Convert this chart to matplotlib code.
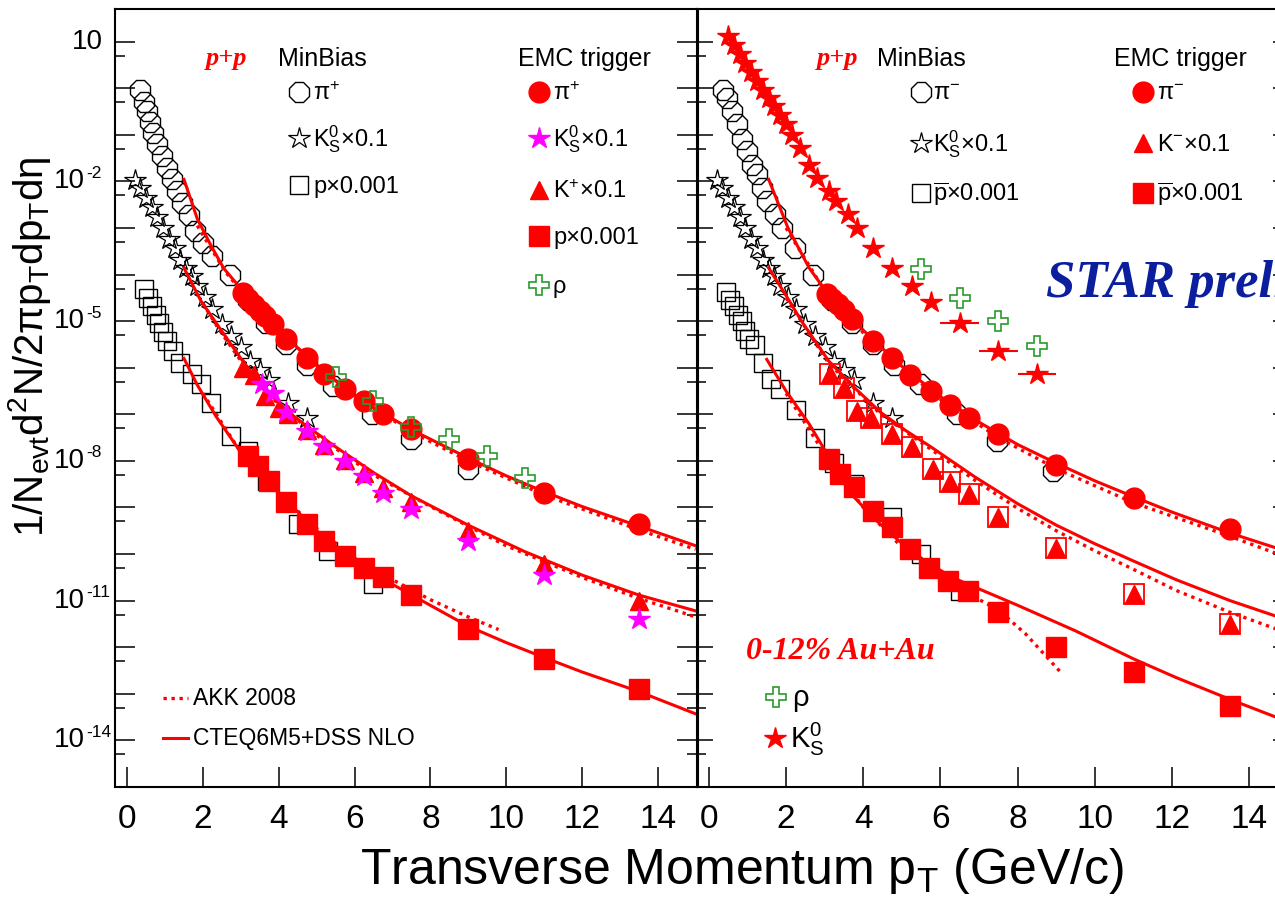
import numpy as np
import matplotlib
matplotlib.use('Agg')
import matplotlib.pyplot as plt
from matplotlib.lines import Line2D
from matplotlib.ticker import FixedLocator, NullFormatter

plt.rcParams['font.family'] = ['Liberation Sans', 'DejaVu Sans']
plt.rcParams['mathtext.fontset'] = 'custom'
plt.rcParams['mathtext.rm'] = 'Liberation Sans'
plt.rcParams['mathtext.it'] = 'Liberation Sans:italic'
plt.rcParams['mathtext.bf'] = 'Liberation Sans:bold'

# =========================
# p+p, positive particles (left pad)
# =========================
pip_mb_pt = [0.35, 0.45, 0.52, 0.61, 0.69, 0.78, 0.92, 1.05, 1.18, 1.31, 1.44, 1.62,
             1.79, 2.01, 2.25, 2.72, 3.2, 3.67, 4.2, 4.75, 5.42, 6.47, 7.5, 9.0]
pip_mb_y = [9.1e-1, 5.1e-1, 3.2e-1, 1.9e-1, 1.1e-1, 6.2e-2, 3.5e-2, 1.9e-2, 1.1e-2, 6.2e-3,
            3.5e-3, 1.9e-3, 8.5e-4, 4.8e-4, 2.5e-4, 1.0e-4, 2.8e-5, 9.1e-6, 3.2e-6, 1.15e-6,
            4.0e-7, 1.0e-7, 3.0e-8, 6.8e-9]

pip_emc_pt = [3.05, 3.2, 3.35, 3.5, 3.65, 3.85, 4.2, 4.75, 5.2, 5.75, 6.25, 6.75, 7.5, 9.0, 11.0, 13.5]
pip_emc_y = [4.0e-5, 2.95e-5, 2.19e-5, 1.62e-5, 1.26e-5, 8.7e-6, 4.07e-6, 1.62e-6, 7.24e-7,
             3.55e-7, 1.91e-7, 1.0e-7, 4.79e-8, 1.1e-8, 2.09e-9, 4.47e-10]

pip_nlo_pt = [1.5, 1.85, 2.2, 2.55, 3.0, 3.5, 4.0, 4.75, 5.5, 6.5, 7.5, 9.0, 10.0, 11.0, 12.0, 13.5, 15.0]
pip_nlo_y = [1.1e-2, 1.58e-3, 4.37e-4, 1.35e-4, 5.01e-5, 1.78e-5, 6.61e-6, 1.7e-6, 5.25e-7,
             1.38e-7, 4.68e-8, 1.15e-8, 4.79e-9, 2.19e-9, 1.05e-9, 3.98e-10, 1.51e-10]

pip_akk_pt = [1.85, 2.2, 2.6, 3.0, 4.0, 5.0, 6.0, 7.5, 9.0, 11.0, 13.5, 15.0]
pip_akk_y = [1.12e-3, 3.8e-4, 1.12e-4, 4.57e-5, 6.31e-6, 1.12e-6, 2.51e-7, 4.17e-8, 1.0e-8,
             1.86e-9, 3.31e-10, 1.26e-10]

# K0s x 0.1, minimum bias (same points in both pads)
k0s_mb_pt = [0.2, 0.35, 0.5, 0.65, 0.8, 0.95, 1.1, 1.25, 1.4, 1.55, 1.7, 1.85, 2.05, 2.25,
             2.5, 2.75, 3.0, 3.25, 3.5, 3.75, 4.25, 4.75]
k0s_mb_y = [1.05e-2, 7.08e-3, 4.37e-3, 2.75e-3, 1.7e-3, 9.8e-4, 5.75e-4, 3.72e-4, 2.09e-4,
            1.35e-4, 9.1e-5, 5.62e-5, 3.31e-5, 1.78e-5, 8.5e-6, 4.79e-6, 2.82e-6, 1.41e-6,
            8.9e-7, 5.37e-7, 1.78e-7, 8.3e-8]

k0s_emc_pt = [3.55, 3.85, 4.2, 4.75, 5.2, 5.75, 6.25, 6.75, 7.5, 9.0, 11.0, 13.5]
k0s_emc_y = [4.37e-7, 2.88e-7, 1.1e-7, 4.37e-8, 2.09e-8, 1.0e-8, 4.79e-9, 2.09e-9, 9.3e-10,
             1.95e-10, 3.47e-11, 4.07e-12]

kp_emc_pt = [3.05, 3.35, 3.65, 4.0, 4.25, 4.75, 5.2, 5.75, 6.25, 6.75, 7.5, 9.0, 11.0, 13.5]
kp_emc_y = [1.0e-6, 7.08e-7, 2.51e-7, 1.38e-7, 1.0e-7, 4.68e-8, 2.24e-8, 1.07e-8, 5.37e-9,
            2.63e-9, 1.29e-9, 3.16e-10, 6.17e-11, 1.0e-11]

kp_nlo_pt = [1.5, 1.95, 2.4, 3.0, 3.5, 4.1, 4.65, 5.5, 6.5, 7.5, 9.0, 10.5, 12.0, 13.5, 15.0]
kp_nlo_y = [1.38e-4, 2.69e-5, 7.94e-6, 1.58e-6, 4.68e-7, 1.41e-7, 6.31e-8, 2.0e-8, 5.62e-9,
            1.78e-9, 4.17e-10, 1.12e-10, 3.55e-11, 1.32e-11, 6.03e-12]

kp_akk_pt = [2.0, 2.4, 3.0, 4.0, 5.0, 6.5, 8.0, 10.0, 12.0, 13.5, 15.0]
kp_akk_y = [2.4e-5, 7.08e-6, 1.41e-6, 1.58e-7, 3.55e-8, 5.01e-9, 1.05e-9, 1.51e-10, 3.16e-11,
            1.12e-11, 4.47e-12]

p_mb_pt = [0.45, 0.55, 0.65, 0.75, 0.85, 0.95, 1.05, 1.2, 1.4, 1.7, 1.95, 2.2, 2.75, 3.2,
           3.7, 4.5, 5.3, 6.5]
p_mb_y = [4.79e-5, 3.16e-5, 2.09e-5, 1.35e-5, 8.9e-6, 5.75e-6, 3.72e-6, 2.29e-6, 1.29e-6,
          7.24e-7, 4.37e-7, 1.78e-7, 3.47e-8, 1.62e-8, 3.72e-9, 4.47e-10, 1.17e-10, 2.29e-11]

p_emc_pt = [3.2, 3.45, 3.75, 4.2, 4.75, 5.2, 5.75, 6.25, 6.75, 7.5, 9.0, 11.0, 13.5]
p_emc_y = [1.29e-8, 7.76e-9, 3.72e-9, 1.29e-9, 4.37e-10, 1.95e-10, 9.1e-11, 5.13e-11,
           3.16e-11, 1.29e-11, 2.45e-12, 5.62e-13, 1.29e-13]

p_nlo_pt = [1.5, 1.85, 2.35, 2.9, 3.5, 4.2, 5.0, 6.0, 7.0, 8.0, 9.0, 10.0, 11.0, 12.0, 13.5, 15.0]
p_nlo_y = [1.58e-6, 4.27e-7, 8.9e-8, 2.0e-8, 5.62e-9, 1.41e-9, 3.16e-10, 7.08e-11, 2.24e-11,
           7.94e-12, 2.82e-12, 1.26e-12, 6.03e-13, 2.95e-13, 1.12e-13, 3.72e-14]

p_akk_pt = [2.0, 3.0, 4.0, 5.0, 6.0, 7.0, 8.0, 9.0, 9.8]
p_akk_y = [2.82e-7, 1.51e-8, 2.0e-9, 3.55e-10, 8.3e-11, 2.82e-11, 1.05e-11, 4.47e-12, 2.4e-12]

rho_pp_pt = [5.5, 6.5, 7.5, 8.5, 9.5, 10.5]
rho_pp_y = [6.31e-7, 1.91e-7, 5.25e-8, 2.95e-8, 1.29e-8, 4.37e-9]

# =========================
# p+p, negative particles (right pad)
# =========================
pim_mb_pt = [0.37, 0.47, 0.6, 0.73, 0.86, 0.99, 1.12, 1.25, 1.38, 1.51, 1.72, 1.9, 2.24,
             2.71, 3.2, 3.7, 4.25, 4.8, 5.47, 6.42, 7.46, 8.92]
pim_mb_y = [9.3e-1, 6.03e-1, 3.16e-1, 1.66e-1, 8.3e-2, 4.37e-2, 2.29e-2, 1.41e-2, 7.08e-3,
            3.72e-3, 1.95e-3, 1.0e-3, 3.63e-4, 1.0e-4, 2.82e-5, 9.1e-6, 3.16e-6, 1.15e-6,
            4.37e-7, 1.0e-7, 2.69e-8, 6.17e-9]

pim_emc_pt = [3.05, 3.2, 3.35, 3.5, 3.7, 4.25, 4.75, 5.2, 5.75, 6.25, 6.75, 7.5, 9.0, 11.0, 13.5]
pim_emc_y = [3.8e-5, 2.95e-5, 2.29e-5, 1.74e-5, 1.12e-5, 3.8e-6, 1.58e-6, 7.08e-7, 3.16e-7,
             1.58e-7, 8.5e-8, 3.72e-8, 8.3e-9, 1.62e-9, 3.47e-10]

pim_nlo_pt = [1.55, 2.05, 2.6, 3.0, 3.5, 4.25, 5.0, 6.0, 7.0, 8.0, 9.0, 10.0, 11.0, 12.0, 13.5, 15.0]
pim_nlo_y = [1.1e-2, 1.0e-3, 1.38e-4, 4.79e-5, 1.66e-5, 3.98e-6, 1.07e-6, 2.4e-7, 6.76e-8,
             2.24e-8, 8.9e-9, 3.72e-9, 1.7e-9, 7.94e-10, 2.82e-10, 1.12e-10]

pim_akk_pt = [2.0, 3.0, 4.0, 5.0, 6.0, 7.5, 9.0, 11.0, 13.5, 15.0]
pim_akk_y = [1.0e-3, 4.47e-5, 5.62e-6, 1.0e-6, 2.09e-7, 3.16e-8, 6.76e-9, 1.26e-9, 2.4e-10, 8.3e-11]

km_emc_pt = [3.15, 3.5, 3.85, 4.2, 4.75, 5.25, 5.8, 6.25, 6.75, 7.5, 9.0, 11.0, 13.5]
km_emc_y = [7.24e-7, 3.72e-7, 1.17e-7, 8.5e-8, 3.72e-8, 1.95e-8, 6.61e-9, 3.47e-9, 1.95e-9,
            6.17e-10, 1.38e-10, 1.38e-11, 3.16e-12]

km_nlo_pt = [1.55, 2.0, 2.4, 3.1, 3.8, 4.45, 5.1, 5.75, 6.9, 8.0, 9.0, 10.0, 11.0, 12.1, 13.5, 15.0]
km_nlo_y = [1.38e-4, 3.55e-5, 1.0e-5, 1.41e-6, 3.55e-7, 1.1e-7, 4.47e-8, 2.0e-8, 4.47e-9,
            1.2e-9, 4.17e-10, 1.66e-10, 7.08e-11, 2.82e-11, 1.0e-11, 3.8e-12]

km_akk_pt = [2.0, 3.1, 4.45, 5.75, 6.9, 8.0, 9.0, 10.0, 11.0, 12.1, 13.5, 15.0]
km_akk_y = [3.16e-5, 1.26e-6, 1.0e-7, 1.78e-8, 3.8e-9, 9.55e-10, 3.16e-10, 1.17e-10,
            4.68e-11, 1.66e-11, 5.62e-12, 2.0e-12]

pbar_mb_pt = [0.45, 0.55, 0.65, 0.75, 0.85, 0.95, 1.05, 1.2, 1.4, 1.6, 1.85, 2.25, 2.75,
              3.25, 3.75, 4.75, 5.5, 6.5]
pbar_mb_y = [4.17e-5, 2.82e-5, 2.09e-5, 1.38e-5, 1.0e-5, 6.03e-6, 4.17e-6, 3.02e-6, 1.26e-6,
             5.62e-7, 3.55e-7, 1.23e-7, 3.16e-8, 8.9e-9, 3.16e-9, 6.31e-10, 1.0e-10, 1.62e-11]

pbar_emc_pt = [3.1, 3.4, 3.75, 4.25, 4.75, 5.2, 5.7, 6.2, 6.7, 7.5, 9.0, 11.0, 13.5]
pbar_emc_y = [1.1e-8, 5.13e-9, 2.69e-9, 8.5e-10, 3.72e-10, 1.29e-10, 5.13e-11, 2.69e-11,
              1.62e-11, 5.62e-12, 1.0e-12, 2.88e-13, 5.37e-14]

pbar_nlo_pt = [1.5, 2.0, 2.6, 3.1, 3.65, 4.3, 4.9, 5.6, 6.3, 7.0, 8.0, 9.5, 11.0, 12.1, 13.5, 15.0]
pbar_nlo_y = [1.51e-6, 3.16e-7, 6.17e-8, 1.26e-8, 2.09e-9, 5.62e-10, 2.0e-10, 7.08e-11,
              3.16e-11, 1.78e-11, 7.94e-12, 2.24e-12, 5.62e-13, 2.24e-13, 7.59e-14, 2.51e-14]

pbar_akk_pt = [2.0, 3.0, 4.0, 5.0, 6.0, 6.9, 7.5, 8.2, 9.15]
pbar_akk_y = [2.82e-7, 1.41e-8, 1.0e-9, 1.41e-10, 3.16e-11, 1.17e-11, 6.31e-12, 1.95e-12, 2.69e-13]

# 0-12% Au+Au
rho_auau_pt = [5.5, 6.5, 7.5, 8.5]
rho_auau_y = [1.29e-4, 3.16e-5, 1.0e-5, 2.88e-6]

k0s_auau_pt = [0.5, 0.65, 0.8, 0.95, 1.1, 1.25, 1.4, 1.55, 1.7, 1.85, 2.0, 2.15, 2.35, 2.6,
               2.8, 3.1, 3.3, 3.6, 3.85, 4.25, 4.75, 5.25, 5.75, 6.5, 7.5, 8.5]
k0s_auau_y = [12.9, 8.32, 5.37, 3.47, 2.24, 1.45, 0.933, 0.603, 0.407, 0.269, 0.166, 0.1,
              5.13e-2, 2.29e-2, 1.17e-2, 6.17e-3, 3.72e-3, 1.95e-3, 1.0e-3, 3.72e-4, 1.38e-4,
              5.62e-5, 2.51e-5, 9.1e-6, 2.29e-6, 7.24e-7]
k0s_auau_xerr = [0.0] * 23 + [0.5, 0.5, 0.5]

# decades that carry a label on the y axis
ylabel_exps = [1, -2, -5, -8, -11, -14]

# =========================
# styles
# =========================
RED = '#ff0000'
MAG = '#ff00ff'
GREEN = '#2b9a2b'
BLUE = '#0b1f9e'
SERIF = ['Liberation Serif', 'DejaVu Serif']

sty_pi_mb = dict(marker='8', ms=16, mfc='none', mec='black', mew=1.0, ls='none')
sty_k0_mb = dict(marker='*', ms=16, mfc='none', mec='black', mew=0.9, ls='none')
sty_p_mb = dict(marker='s', ms=13.5, mfc='none', mec='black', mew=1.0, ls='none')
sty_pi_emc = dict(marker='o', ms=15, color=RED, ls='none')
sty_k0_emc = dict(marker='*', ms=16, color=MAG, ls='none')
sty_k_emc = dict(marker='^', ms=13, color=RED, ls='none')
sty_p_emc = dict(marker='s', ms=14, color=RED, ls='none')
sty_rho = dict(marker='P', ms=15, mfc='none', mec=GREEN, mew=1.2, ls='none')
sty_k0_auau = dict(marker='*', ms=16, color=RED, ls='none')
nlo_kw = dict(color=RED, lw=2.2, ls='-')
akk_kw = dict(color=RED, lw=2.4, ls=(0, (1.0, 1.4)))

W, H = 1275, 913
fig = plt.figure(figsize=(W / 100, H / 100), dpi=100)


def fx(px):
    return px / W


def fy(py):
    return 1.0 - py / H


LEFT_W = 697.5 - 115
ax_l = fig.add_axes([fx(115), fy(787), LEFT_W / W, (787 - 9) / H])
# right pad runs past the right edge of the canvas
ax_r = fig.add_axes([fx(698), fy(787), 590 / W, (787 - 9) / H])
ax_r.patch.set_visible(False)

for ax, xlim, ylen in ((ax_l, (-0.32, 15.05), 14.4), (ax_r, (-0.28, 15.0), 10.8)):
    ax.set_yscale('log')
    ax.set_ylim(1e-15, 50)
    ax.set_xlim(*xlim)
    ax.yaxis.set_major_locator(FixedLocator(10.0 ** np.arange(-15, 2)))
    ax.yaxis.set_minor_locator(FixedLocator(5.0 * 10.0 ** np.arange(-16, 1)))
    ax.yaxis.set_major_formatter(NullFormatter())
    ax.yaxis.set_minor_formatter(NullFormatter())
    ax.set_xticks(np.arange(0, 15, 2))
    ax.tick_params(axis='both', which='both', direction='in', top=False, right=True,
                   width=1.1, colors='black')
    ax.tick_params(axis='y', which='major', length=ylen)
    ax.tick_params(axis='y', which='minor', length=ylen / 2)
    ax.tick_params(axis='x', which='major', length=14.4, labelsize=24, pad=12)
    for s in ax.spines.values():
        s.set_linewidth(1.5)

# y labels as "10" with a small raised exponent
ytrans = ax_l.get_yaxis_transform()
for e in ylabel_exps:
    if e == 1:
        ax_l.text(-12 / LEFT_W, 10.0 ** e, '10', ha='right', va='center', fontsize=20,
                  transform=ytrans, clip_on=False)
    else:
        ax_l.text(-30 / LEFT_W, 10.0 ** e, '10', ha='right', va='center', fontsize=20,
                  transform=ytrans, clip_on=False)
        ax_l.text(-29 / LEFT_W, 10.0 ** (e + 0.17), '%d' % e, ha='left', va='center',
                  fontsize=12.5, transform=ytrans, clip_on=False)

# ---- left pad: pi+, K, p ----
ax = ax_l
ax.plot(pip_mb_pt, pip_mb_y, **sty_pi_mb)
ax.plot(k0s_mb_pt, k0s_mb_y, **sty_k0_mb)
ax.plot(p_mb_pt, p_mb_y, **sty_p_mb)
for pt, y in ((pip_nlo_pt, pip_nlo_y), (kp_nlo_pt, kp_nlo_y), (p_nlo_pt, p_nlo_y)):
    ax.plot(pt, y, **nlo_kw)
for pt, y in ((pip_akk_pt, pip_akk_y), (kp_akk_pt, kp_akk_y), (p_akk_pt, p_akk_y)):
    ax.plot(pt, y, **akk_kw)
ax.plot(pip_emc_pt, pip_emc_y, **sty_pi_emc)
ax.plot(kp_emc_pt, kp_emc_y, **sty_k_emc)
ax.plot(k0s_emc_pt, k0s_emc_y, **sty_k0_emc)
ax.plot(p_emc_pt, p_emc_y, **sty_p_emc)
ax.plot(rho_pp_pt, rho_pp_y, **sty_rho)

# ---- right pad: pi-, K, pbar and Au+Au ----
ax = ax_r
ax.plot(pim_mb_pt, pim_mb_y, **sty_pi_mb)
ax.plot(k0s_mb_pt, k0s_mb_y, **sty_k0_mb)
ax.plot(pbar_mb_pt, pbar_mb_y, **sty_p_mb)
for pt, y in ((pim_nlo_pt, pim_nlo_y), (km_nlo_pt, km_nlo_y), (pbar_nlo_pt, pbar_nlo_y)):
    ax.plot(pt, y, **nlo_kw)
for pt, y in ((pim_akk_pt, pim_akk_y), (km_akk_pt, km_akk_y), (pbar_akk_pt, pbar_akk_y)):
    ax.plot(pt, y, **akk_kw)
# open boxes around the kaon points
ax.plot(km_emc_pt, km_emc_y, marker='s', ms=14, mfc='none', mec=RED, mew=1.3, ls='none')
ax.plot(km_emc_pt, km_emc_y, **sty_k_emc)
ax.plot(pim_emc_pt, pim_emc_y, **sty_pi_emc)
ax.plot(pbar_emc_pt, pbar_emc_y, **sty_p_emc)
ax.plot(rho_auau_pt, rho_auau_y, **sty_rho)
ax.errorbar(k0s_auau_pt, k0s_auau_y, xerr=k0s_auau_xerr, fmt='*', ms=16, color=RED,
            elinewidth=1.5, capsize=0)


# ---- keys ----
def key(x, y, **kw):
    fig.add_artist(Line2D([fx(x)], [fy(y)], **kw))


def key_line(x0, x1, y, **kw):
    fig.add_artist(Line2D([fx(x0), fx(x1)], [fy(y), fy(y)], **kw))


def label(x, y, s, **kw):
    kw.setdefault('fontsize', 17)
    fig.text(fx(x), fy(y), s, va='baseline', **kw)


serif_kw = dict(family=SERIF, weight='bold', style='italic')

# left pad
fig.text(fx(227), fy(65), 'p+p', ha='center', va='baseline', fontsize=19, color=RED, **serif_kw)
label(278, 66, 'MinBias', fontsize=18)
label(518, 66, 'EMC trigger', fontsize=18)
for y, sty, txt in ((92, sty_pi_mb, 'π$^{+}$'),
                    (138, sty_k0_mb, r'K$^{0}_{\rm S}$×0.1'),
                    (185, sty_p_mb, 'p×0.001')):
    key(299, y, **sty)
    label(313, y + 8, txt)
for y, sty, txt in ((92, sty_pi_emc, 'π$^{+}$'),
                    (138, sty_k0_emc, r'K$^{0}_{\rm S}$×0.1'),
                    (190, sty_k_emc, 'K$^{+}$×0.1'),
                    (236, sty_p_emc, 'p×0.001'),
                    (285, sty_rho, 'ρ')):
    key(539, y, **sty)
    label(553, y + 8, txt)

key_line(163, 188, 698, **akk_kw)
label(193, 705, 'AKK 2008', fontsize=16.5)
key_line(163, 188, 738, **nlo_kw)
label(193, 745, 'CTEQ6M5+DSS NLO', fontsize=16.5)

# right pad
fig.text(fx(838), fy(65), 'p+p', ha='center', va='baseline', fontsize=19, color=RED, **serif_kw)
label(877, 66, 'MinBias', fontsize=18)
label(1114, 66, 'EMC trigger', fontsize=18)
for y, sty, txt in ((92, sty_pi_mb, 'π$^{-}$'),
                    (143, sty_k0_mb, r'K$^{0}_{\rm S}$×0.1'),
                    (193, sty_p_mb, r'$\overline{\rm p}$×0.001')):
    key(921, y, **sty)
    label(933, y + 8, txt)
for y, sty, txt in ((92, sty_pi_emc, 'π$^{-}$'),
                    (143, sty_k_emc, 'K$^{-}$×0.1'),
                    (193, sty_p_emc, r'$\overline{\rm p}$×0.001')):
    key(1143, y, **sty)
    label(1157, y + 8, txt)

fig.text(fx(746), fy(659), '0-12% Au+Au', va='baseline', fontsize=23, color=RED, **serif_kw)
key(776, 697, **sty_rho)
label(792, 706, 'ρ', fontsize=21)
key(775, 738, **sty_k0_auau)
label(790, 748, r'K$^{0}_{\rm S}$', fontsize=21)

fig.text(fx(1046), fy(297), 'STAR preliminary', va='baseline', fontsize=38, color=BLUE, **serif_kw)

# axis titles
fig.text(fx(30), fy(347), '1/N$_{\\rm evt}$d$^{2}$N/2πp$_{\\rm T}$dp$_{\\rm T}$dη',
         rotation=90, ha='center', va='center', fontsize=29)
fig.text(fx(742), fy(884), 'Transverse Momentum p$_{\\rm T}$ (GeV/c)',
         ha='center', va='baseline', fontsize=36)

fig.savefig('out.png', dpi=100)
